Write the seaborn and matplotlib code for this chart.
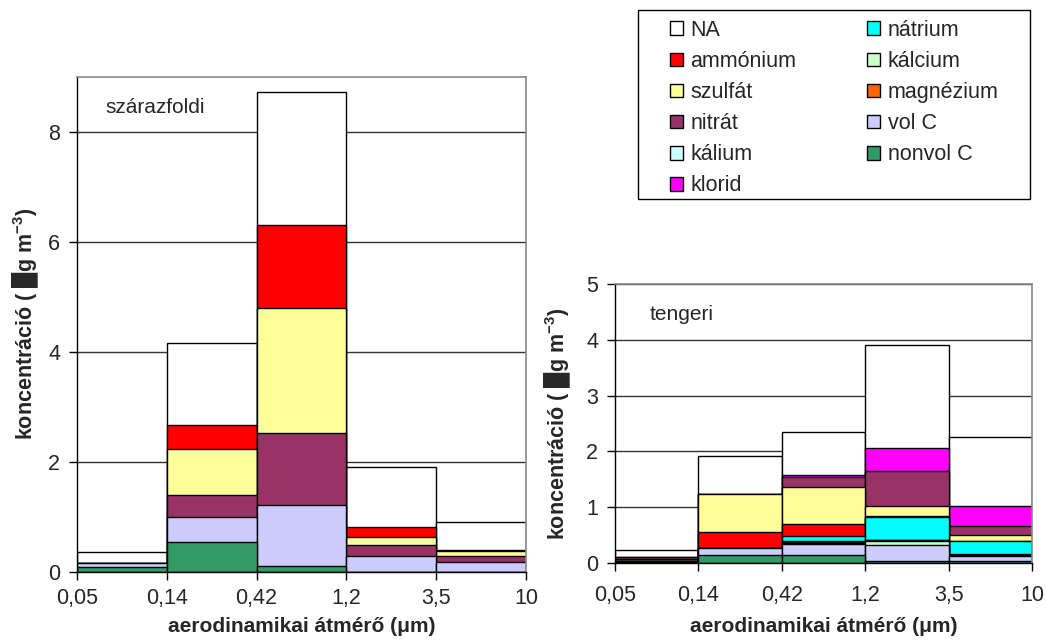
import numpy as np
import pandas as pd
import matplotlib
matplotlib.use("Agg")
import matplotlib.pyplot as plt
import seaborn as sns
from matplotlib.patches import Patch, Rectangle

# ---------------- data ----------------
edges = ["0,05", "0,14", "0,42", "1,2", "3,5", "10"]
bins = ["0.05-0.14", "0.14-0.42", "0.42-1.2", "1.2-3.5", "3.5-10"]

# left panel (szárazföldi), bottom -> top
land_nonvolC = [0.09, 0.53, 0.10, 0.00, 0.00]
land_volC = [0.06, 0.47, 1.11, 0.29, 0.18]
land_nitrat = [0.00, 0.39, 1.31, 0.19, 0.10]
land_szulfat = [0.00, 0.84, 2.28, 0.15, 0.09]
land_ammonium = [0.00, 0.43, 1.50, 0.18, 0.02]
land_NA = [0.20, 1.50, 2.42, 1.09, 0.52]

# right panel (tengeri), bottom -> top
sea_nonvolC = [0.01, 0.14, 0.14, 0.04, 0.03]
sea_volC = [0.02, 0.12, 0.20, 0.28, 0.09]
sea_kalcium = [0.00, 0.00, 0.02, 0.07, 0.00]
sea_magnezium = [0.00, 0.00, 0.02, 0.02, 0.02]
sea_kalium = [0.00, 0.00, 0.01, 0.00, 0.02]
sea_natrium = [0.00, 0.00, 0.10, 0.42, 0.24]
sea_ammonium = [0.00, 0.30, 0.20, 0.015, 0.00]
sea_szulfat = [0.05, 0.67, 0.68, 0.17, 0.10]
sea_nitrat = [0.02, 0.00, 0.18, 0.63, 0.17]
sea_klorid = [0.00, 0.00, 0.03, 0.41, 0.35]
sea_NA = [0.14, 0.69, 0.77, 1.85, 1.24]

colors = {
    "NA": "#FFFFFF",
    "ammónium": "#FF0000",
    "szulfát": "#FFFF99",
    "nitrát": "#993366",
    "kálium": "#CCFFFF",
    "klorid": "#FF00FF",
    "nátrium": "#00FFFF",
    "kálcium": "#CCFFCC",
    "magnézium": "#FF6600",
    "vol C": "#CCCCFF",
    "nonvol C": "#339966",
}
legend_order = ["NA", "ammónium", "szulfát", "nitrát", "kálium", "klorid",
                "nátrium", "kálcium", "magnézium", "vol C", "nonvol C"]

land_layers = [("nonvol C", land_nonvolC), ("vol C", land_volC),
               ("nitrát", land_nitrat), ("szulfát", land_szulfat),
               ("ammónium", land_ammonium), ("NA", land_NA)]
sea_layers = [("nonvol C", sea_nonvolC), ("vol C", sea_volC),
              ("kálcium", sea_kalcium), ("magnézium", sea_magnezium),
              ("kálium", sea_kalium), ("nátrium", sea_natrium),
              ("ammónium", sea_ammonium), ("szulfát", sea_szulfat),
              ("nitrát", sea_nitrat), ("klorid", sea_klorid), ("NA", sea_NA)]

# ---------------- style ----------------
sns.set_style("white")
plt.rcParams["font.family"] = ["Liberation Sans", "DejaVu Sans"]
plt.rcParams["mathtext.default"] = "regular"

fig = plt.figure(figsize=(10.46, 6.41), dpi=100)
axL = fig.add_axes([77 / 1046, 1 - 571.5 / 641, 449 / 1046, 494.5 / 641])
axR = fig.add_axes([615 / 1046, 1 - 563 / 641, 417 / 1046, 279 / 641])


def draw_stack(ax, layers):
    df = pd.DataFrame({"bin": bins})
    cum = np.zeros(len(bins))
    cums = []
    for name, vals in layers:
        cum = cum + np.array(vals, dtype=float)
        cums.append((name, cum.copy()))
    # draw from top layer down so lower layers overlay
    for name, c in reversed(cums):
        df["y"] = c
        sns.barplot(data=df, x="bin", y="y", order=bins, color=colors[name],
                    saturation=1, width=1.0, edgecolor="black", linewidth=1.0,
                    ax=ax, errorbar=None)


draw_stack(axL, land_layers)
draw_stack(axR, sea_layers)

ylabel = "koncentráció ( █g m$^{-3}$)"
xlabel = "aerodinamikai átmérő (μm)"

for ax, ymax, yticks in [(axL, 9, [0, 2, 4, 6, 8]), (axR, 5, [0, 1, 2, 3, 4, 5])]:
    ax.set_xlim(-0.5, 4.5)
    ax.set_ylim(0, ymax)
    ax.set_yticks(yticks)
    ax.set_yticklabels([str(t) for t in yticks], fontsize=15.5)
    ax.set_xticks(np.arange(-0.5, 5.0, 1.0))
    ax.set_xticklabels(edges, fontsize=15.5)
    ax.yaxis.grid(True, color="#333333", linewidth=1.0)
    ax.xaxis.grid(False)
    ax.set_axisbelow(True)
    ax.tick_params(axis="both", direction="out", length=6, width=1,
                   color="black", pad=6, left=True, bottom=True)
    for s in ["left", "bottom"]:
        ax.spines[s].set_color("black")
        ax.spines[s].set_linewidth(1.0)
    for s in ["right", "top"]:
        ax.spines[s].set_color("#888888")
        ax.spines[s].set_linewidth(1.2)
        ax.spines[s].set_visible(True)
    ax.set_ylabel(ylabel, fontsize=15.5, fontweight="bold")
    ax.set_xlabel(xlabel, fontsize=15, fontweight="bold")

axR.tick_params(axis="x", pad=10)
axL.xaxis.labelpad = 6
axR.xaxis.labelpad = 8

axL.yaxis.set_label_coords(-0.08, 0.5)
axR.yaxis.set_label_coords(-0.10, 0.5)

axL.text(-0.18, 8.45, "szárazfoldi", fontsize=15, va="center", ha="left")
axR.text(-0.08, 4.46, "tengeri", fontsize=15, va="center", ha="left")

handles = [Patch(facecolor=colors[n], edgecolor="black", linewidth=1.0, label=n)
           for n in legend_order]
leg = fig.legend(handles=handles, ncol=2, loc="upper left",
                 bbox_to_anchor=(658 / 1046, 1 - 8 / 641), borderaxespad=0,
                 frameon=False, fontsize=15.5, handlelength=0.6,
                 handleheight=0.6, handletextpad=0.35, columnspacing=3.3,
                 labelspacing=0.47, borderpad=0.55)
fig.patches.append(Rectangle((638 / 1046, 1 - 199 / 641), 392 / 1046, 189 / 641,
                             transform=fig.transFigure, fill=False,
                             edgecolor="black", linewidth=1.0))

fig.savefig("out.png", dpi=100)
